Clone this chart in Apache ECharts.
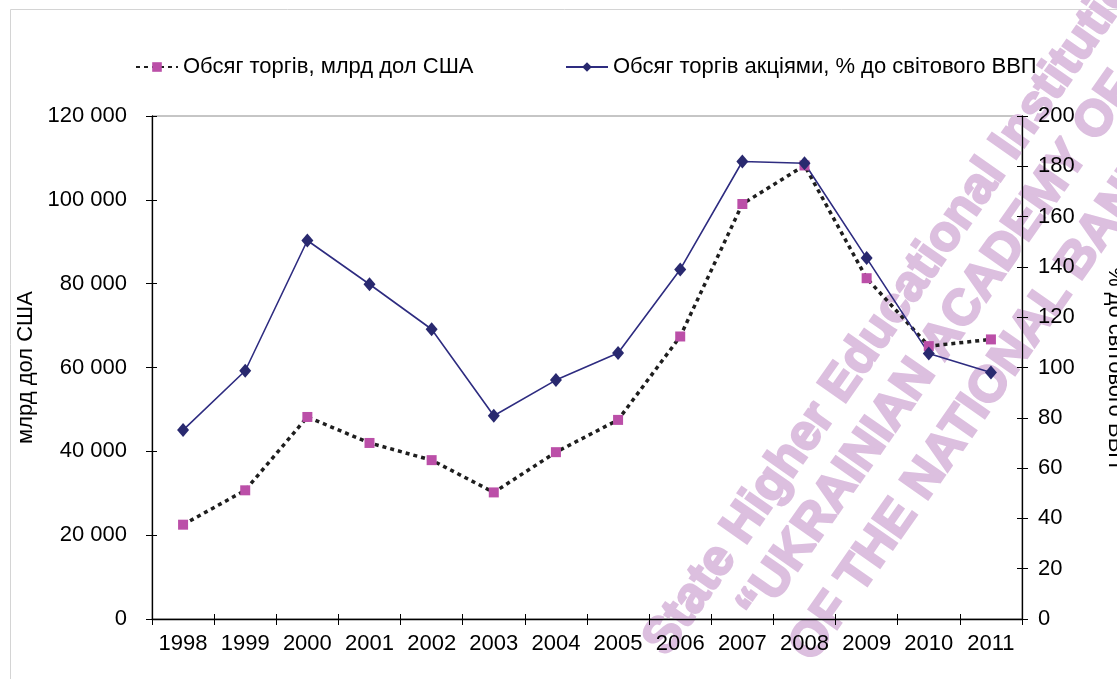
<!DOCTYPE html>
<html>
<head>
<meta charset="utf-8">
<script src="https://cdn.jsdelivr.net/npm/echarts@6/dist/echarts.min.js"></script>
<style>
  html, body { margin: 0; padding: 0; background: #fff; }
  #chart { width: 1117px; height: 679px; }
</style>
</head>
<body>
<div id="chart"></div>
<script>
// дані
const years = ['1998', '1999', '2000', '2001', '2002', '2003', '2004', '2005', '2006', '2007', '2008', '2009', '2010', '2011']
const volume = [22500, 30700, 48200, 42000, 37900, 30200, 39800, 47500, 67400, 99000, 108200, 81300, 65100, 66700]
const shareGdp = [75.1, 98.7, 150.5, 133.1, 115.2, 80.8, 95.0, 105.8, 139.0, 181.9, 181.2, 143.5, 105.6, 98.0]
const leftTicks = [0, 20000, 40000, 60000, 80000, 100000, 120000]
const rightTicks = [0, 20, 40, 60, 80, 100, 120, 140, 160, 180, 200]

const FONT = "'Liberation Sans', Arial, sans-serif"
const WM = '#dcbfdf'
const WM_FONT = 'bold 50px "Liberation Sans", Arial, sans-serif'
const ROT = 0.96

const fmt = v => String(v).replace(/\B(?=(\d{3})+(?!\d))/g, ' ')

const axisBase = {
  axisLine: { show: true, lineStyle: { color: '#000', width: 1.3 } },
  splitLine: { show: false }
}

// водяний знак
const watermark = (text, x, y) => ({
  type: 'text', silent: true, z: 0, x: x, y: y, rotation: ROT,
  style: { text: text, fill: WM, stroke: WM, lineWidth: 2.5, font: WM_FONT, align: 'left', verticalAlign: 'bottom' }
})

const option = {
  animation: false,
  backgroundColor: '#fff',
  textStyle: { fontFamily: FONT, color: '#000' },
  graphic: [
    { type: 'rect', silent: true, z: 0, shape: { x: 10.5, y: 9.5, width: 1200, height: 800 },
      style: { fill: 'none', stroke: '#d4d4d4', lineWidth: 1 } },
    watermark('State Higher Educational Institution', 676, 664),
    watermark('\u201CUKRAINIAN ACADEMY OF BANKING', 770, 630),
    watermark('OF THE NATIONAL BANK OF UKRAINE', 822, 670)
  ],
  legend: [
    {
      left: 130, top: 51, itemWidth: 42, itemHeight: 12, itemGap: 6,
      textStyle: { fontSize: 22, fontFamily: FONT, color: '#000' },
      data: ['Обсяг торгів, млрд дол США']
    },
    {
      left: 560, top: 51, itemWidth: 42, itemHeight: 12, itemGap: 6,
      textStyle: { fontSize: 22, fontFamily: FONT, color: '#000' },
      data: ['Обсяг торгів акціями, % до світового ВВП']
    }
  ],
  grid: {
    left: 152, right: 95, top: 116, bottom: 60, outerBoundsMode: 'none',
    show: true, borderColor: '#8c8c8c', borderWidth: 1
  },
  xAxis: [
    {
      ...axisBase, type: 'category', data: years, boundaryGap: true,
      axisTick: { show: true, inside: false, length: 6, lineStyle: { color: '#000' } },
      axisLabel: { interval: 0, fontSize: 22, fontFamily: FONT, color: '#000', margin: 14 }
    },
    {
      type: 'category', data: years, boundaryGap: true, position: 'bottom',
      axisLine: { show: false },
      axisTick: { show: true, inside: true, length: 5, lineStyle: { color: '#000' } },
      axisLabel: { show: false }, splitLine: { show: false }
    }
  ],
  yAxis: [
    {
      ...axisBase, type: 'value', position: 'left', min: leftTicks[0], max: leftTicks[leftTicks.length - 1], interval: 20000,
      name: 'млрд дол США', nameLocation: 'middle', nameGap: 114, nameRotate: 90,
      nameTextStyle: { fontSize: 22, fontFamily: FONT, color: '#000' },
      axisTick: { show: true, inside: false, length: 6, lineStyle: { color: '#000' } },
      axisLabel: { fontSize: 22, fontFamily: FONT, color: '#000', margin: 25, formatter: fmt }
    },
    {
      ...axisBase, type: 'value', position: 'right', min: rightTicks[0], max: rightTicks[rightTicks.length - 1], interval: 20,
      name: '% до світового ВВП', nameLocation: 'middle', nameGap: 82, nameRotate: -90,
      nameTextStyle: { fontSize: 22, fontFamily: FONT, color: '#000' },
      axisTick: { show: true, inside: false, length: 6, lineStyle: { color: '#000' } },
      axisLabel: { fontSize: 22, fontFamily: FONT, color: '#000', margin: 16 }
    },
    {
      type: 'value', position: 'left', min: 0, max: 120000, interval: 20000,
      axisLine: { show: false }, splitLine: { show: false }, axisLabel: { show: false },
      axisTick: { show: true, inside: true, length: 5, lineStyle: { color: '#000' } }
    },
    {
      type: 'value', position: 'right', min: 0, max: 200, interval: 20,
      axisLine: { show: false }, splitLine: { show: false }, axisLabel: { show: false },
      axisTick: { show: true, inside: true, length: 5, lineStyle: { color: '#000' } }
    }
  ],
  series: [
    {
      name: 'Обсяг торгів, млрд дол США',
      type: 'line', yAxisIndex: 0, data: volume,
      symbol: 'rect', symbolSize: 10,
      itemStyle: { color: '#bb4fa8' },
      lineStyle: { color: '#1e1e1e', width: 3.5, type: [4, 4], cap: 'butt' }
    },
    {
      name: 'Обсяг торгів акціями, % до світового ВВП',
      type: 'line', yAxisIndex: 1, data: shareGdp,
      symbol: 'diamond', symbolSize: [12, 14],
      itemStyle: { color: '#29296f' },
      lineStyle: { color: '#2e2c80', width: 1.6 }
    }
  ]
}

const chart = echarts.init(document.getElementById('chart'), null, { renderer: 'canvas' })
chart.setOption(option)
</script>
</body>
</html>
